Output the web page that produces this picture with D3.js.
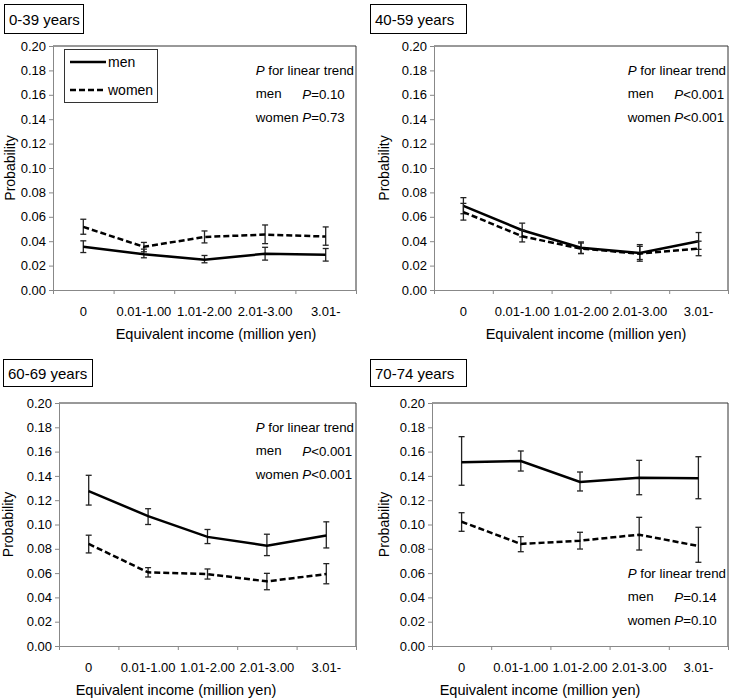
<!DOCTYPE html>
<html>
<head>
<meta charset="utf-8">
<script src="https://cdn.jsdelivr.net/npm/d3@7"></script>
<style>
  body { margin: 0; background: #fff; }
  svg text { font-family: Arial, "Liberation Sans", sans-serif; fill: #000; }
</style>
</head>
<body>
<svg id="vis" width="733" height="700"></svg>
<script>
// income categories on x
var categories = ["0", "0.01-1.00", "1.01-2.00", "2.01-3.00", "3.01-"];
var ageGroups = ["0-39 years", "40-59 years", "60-69 years", "70-74 years"];
var yTickValues = [0, 0.02, 0.04, 0.06, 0.08, 0.10, 0.12, 0.14, 0.16, 0.18, 0.20];

// probability + error bar ends, one row per age group
var menProb = [
  [0.0354, 0.0294, 0.0248, 0.0297, 0.0288],
  [0.0690, 0.0490, 0.0347, 0.0303, 0.0400],
  [0.1275, 0.1069, 0.0898, 0.0826, 0.0909],
  [0.1512, 0.1523, 0.1350, 0.1385, 0.1380]
];
var menLow = [
  [0.0307, 0.0264, 0.0223, 0.0245, 0.0237],
  [0.0625, 0.0435, 0.0298, 0.0236, 0.0333],
  [0.1160, 0.1000, 0.0843, 0.0744, 0.0807],
  [0.1323, 0.1440, 0.1276, 0.1245, 0.1212]
];
var menHigh = [
  [0.0403, 0.0335, 0.0283, 0.0350, 0.0340],
  [0.0757, 0.0548, 0.0394, 0.0372, 0.0471],
  [0.1405, 0.1130, 0.0959, 0.0920, 0.1022],
  [0.1723, 0.1605, 0.1432, 0.1528, 0.1558]
];
var womenProb = [
  [0.0517, 0.0354, 0.0435, 0.0454, 0.0438],
  [0.0639, 0.0440, 0.0339, 0.0298, 0.0339],
  [0.0840, 0.0606, 0.0592, 0.0532, 0.0592],
  [0.1023, 0.0840, 0.0867, 0.0916, 0.0823]
];
var womenLow = [
  [0.0457, 0.0313, 0.0386, 0.0380, 0.0367],
  [0.0573, 0.0394, 0.0300, 0.0250, 0.0281],
  [0.0766, 0.0568, 0.0551, 0.0463, 0.0512],
  [0.0944, 0.0776, 0.0798, 0.0790, 0.0689]
];
var womenHigh = [
  [0.0580, 0.0390, 0.0484, 0.0533, 0.0517],
  [0.0710, 0.0490, 0.0385, 0.0358, 0.0400],
  [0.0912, 0.0645, 0.0634, 0.0598, 0.0678],
  [0.1097, 0.0900, 0.0936, 0.1059, 0.0977]
];
// P for linear trend
var trendMen = ["=0.10", "<0.001", "<0.001", "=0.14"];
var trendWomen = ["=0.73", "<0.001", "<0.001", "=0.10"];

// panel placement
var panels = [
  {left: 53, right: 356, top: 46, bottom: 290, box: [4, 4, 83, 33], ylabX: 10, titleX: 216, trendTop: true, legend: true},
  {left: 434, right: 728, top: 46, bottom: 290, box: [370, 4, 466, 33], ylabX: 384, titleX: 586, trendTop: true, legend: false},
  {left: 59, right: 356, top: 403, bottom: 646, box: [3, 359, 92, 386], ylabX: 8, titleX: 176, trendTop: true, legend: false},
  {left: 432, right: 728, top: 403, bottom: 646, box: [370, 359, 466, 386], ylabX: 384, titleX: 540, trendTop: false, legend: false}
];

var svg = d3.select("#vis");

panels.forEach(function(p, i) {
  var g = svg.append("g");

  var x = d3.scaleBand().domain(categories).range([p.left, p.right]);
  var xEdge = d3.scaleLinear().domain([0, categories.length]).range([p.left, p.right]);
  var y = d3.scaleLinear().domain([0, 0.2]).range([p.bottom, p.top]);

  // top/right frame
  g.append("path")
    .attr("d", "M" + p.left + "," + p.top + "H" + p.right + "V" + p.bottom)
    .attr("fill", "none")
    .attr("stroke", "#333")
    .attr("stroke-width", 1);

  // y axis
  var yAx = g.append("g")
    .attr("transform", "translate(" + p.left + ",0)")
    .call(d3.axisLeft(y).tickValues(yTickValues).tickFormat(d3.format(".2f")).tickSize(4).tickSizeOuter(0).tickPadding(3));
  yAx.selectAll("path, line").attr("stroke", "#888");
  yAx.selectAll("text").attr("font-size", 13).attr("fill", "#000");

  // x axis: tick marks at category edges, labels at centers
  var xAx = g.append("g")
    .attr("transform", "translate(0," + p.bottom + ")")
    .call(d3.axisBottom(xEdge).tickValues(d3.range(categories.length + 1)).tickFormat("").tickSize(4).tickSizeOuter(0));
  xAx.selectAll("path, line").attr("stroke", "#888");

  g.selectAll(".xlab")
    .data(categories)
    .enter().append("text")
    .attr("x", function(d) { return x(d) + x.bandwidth() / 2; })
    .attr("y", p.bottom + 21)
    .attr("text-anchor", "middle")
    .attr("dominant-baseline", "central")
    .attr("font-size", 13)
    .text(function(d) { return d; });

  g.append("text")
    .attr("x", p.titleX)
    .attr("y", p.bottom + 44)
    .attr("text-anchor", "middle")
    .attr("dominant-baseline", "central")
    .attr("font-size", 14.5)
    .text("Equivalent income (million yen)");

  g.append("text")
    .attr("transform", "translate(" + p.ylabX + "," + ((p.top + p.bottom) / 2) + ") rotate(-90)")
    .attr("text-anchor", "middle")
    .attr("dominant-baseline", "central")
    .attr("font-size", 14)
    .text("Probability");

  // age title box
  g.append("rect")
    .attr("x", p.box[0] + 0.5).attr("y", p.box[1] + 0.5)
    .attr("width", p.box[2] - p.box[0]).attr("height", p.box[3] - p.box[1])
    .attr("fill", "#fff").attr("stroke", "#000");
  g.append("text")
    .attr("x", p.box[0] + 5)
    .attr("y", (p.box[1] + p.box[3]) / 2 + 1)
    .attr("dominant-baseline", "central")
    .attr("font-size", 15)
    .text(ageGroups[i]);

  // series
  var series = [
    {prob: menProb[i], lo: menLow[i], hi: menHigh[i], dash: null},
    {prob: womenProb[i], lo: womenLow[i], hi: womenHigh[i], dash: "6,3"}
  ];
  var line = d3.line()
    .x(function(d, j) { return x(categories[j]) + x.bandwidth() / 2; })
    .y(function(d) { return y(d); });

  series.forEach(function(s) {
    var eb = g.append("g");
    s.prob.forEach(function(v, j) {
      var cx = x(categories[j]) + x.bandwidth() / 2;
      eb.append("line").attr("x1", cx).attr("x2", cx).attr("y1", y(s.lo[j])).attr("y2", y(s.hi[j]));
      eb.append("line").attr("x1", cx - 3).attr("x2", cx + 3).attr("y1", y(s.lo[j])).attr("y2", y(s.lo[j]));
      eb.append("line").attr("x1", cx - 3).attr("x2", cx + 3).attr("y1", y(s.hi[j])).attr("y2", y(s.hi[j]));
    });
    eb.selectAll("line").attr("stroke", "#222").attr("stroke-width", 1.3);

    g.append("path")
      .attr("d", line(s.prob))
      .attr("fill", "none")
      .attr("stroke", "#000")
      .attr("stroke-width", 2.5)
      .attr("stroke-dasharray", s.dash);
  });

  // P for linear trend
  var tfs = 13.3;
  var ty = p.trendTop ? p.top + 24 : p.bottom - 73;
  var t1 = g.append("text").attr("x", p.right - 2).attr("y", ty).attr("text-anchor", "end").attr("dominant-baseline", "central").attr("font-size", tfs);
  t1.append("tspan").attr("font-style", "italic").text("P");
  t1.append("tspan").text(" for linear trend");
  var tx = p.right - 2 - t1.node().getComputedTextLength();

  var t3 = g.append("text").attr("x", tx).attr("y", ty + 47).attr("dominant-baseline", "central").attr("font-size", tfs);
  t3.append("tspan").text("women ");
  t3.append("tspan").attr("font-style", "italic").text("P");
  t3.append("tspan").text(trendWomen[i]);
  var endX = tx + t3.node().getComputedTextLength();

  g.append("text").attr("x", tx).attr("y", ty + 23.5).attr("dominant-baseline", "central").attr("font-size", tfs).text("men");
  var t2 = g.append("text").attr("x", endX).attr("y", ty + 23.5).attr("text-anchor", "end").attr("dominant-baseline", "central").attr("font-size", tfs);
  t2.append("tspan").attr("font-style", "italic").text("P");
  t2.append("tspan").text(trendMen[i]);

  // legend (first panel only)
  if (p.legend) {
    var lg = g.append("g");
    lg.append("rect")
      .attr("x", p.left + 11.5).attr("y", p.top + 3.5)
      .attr("width", 93).attr("height", 53)
      .attr("fill", "#fff").attr("stroke", "#333");
    [{label: "men", dash: null, yy: p.top + 16}, {label: "women", dash: "6,3", yy: p.top + 44}].forEach(function(e) {
      lg.append("line")
        .attr("x1", p.left + 17).attr("x2", p.left + 53)
        .attr("y1", e.yy).attr("y2", e.yy)
        .attr("stroke", "#000").attr("stroke-width", 2.5)
        .attr("stroke-dasharray", e.dash);
      lg.append("text")
        .attr("x", p.left + 55).attr("y", e.yy)
        .attr("dominant-baseline", "central")
        .attr("font-size", 14)
        .text(e.label);
    });
  }
});
</script>
</body>
</html>
